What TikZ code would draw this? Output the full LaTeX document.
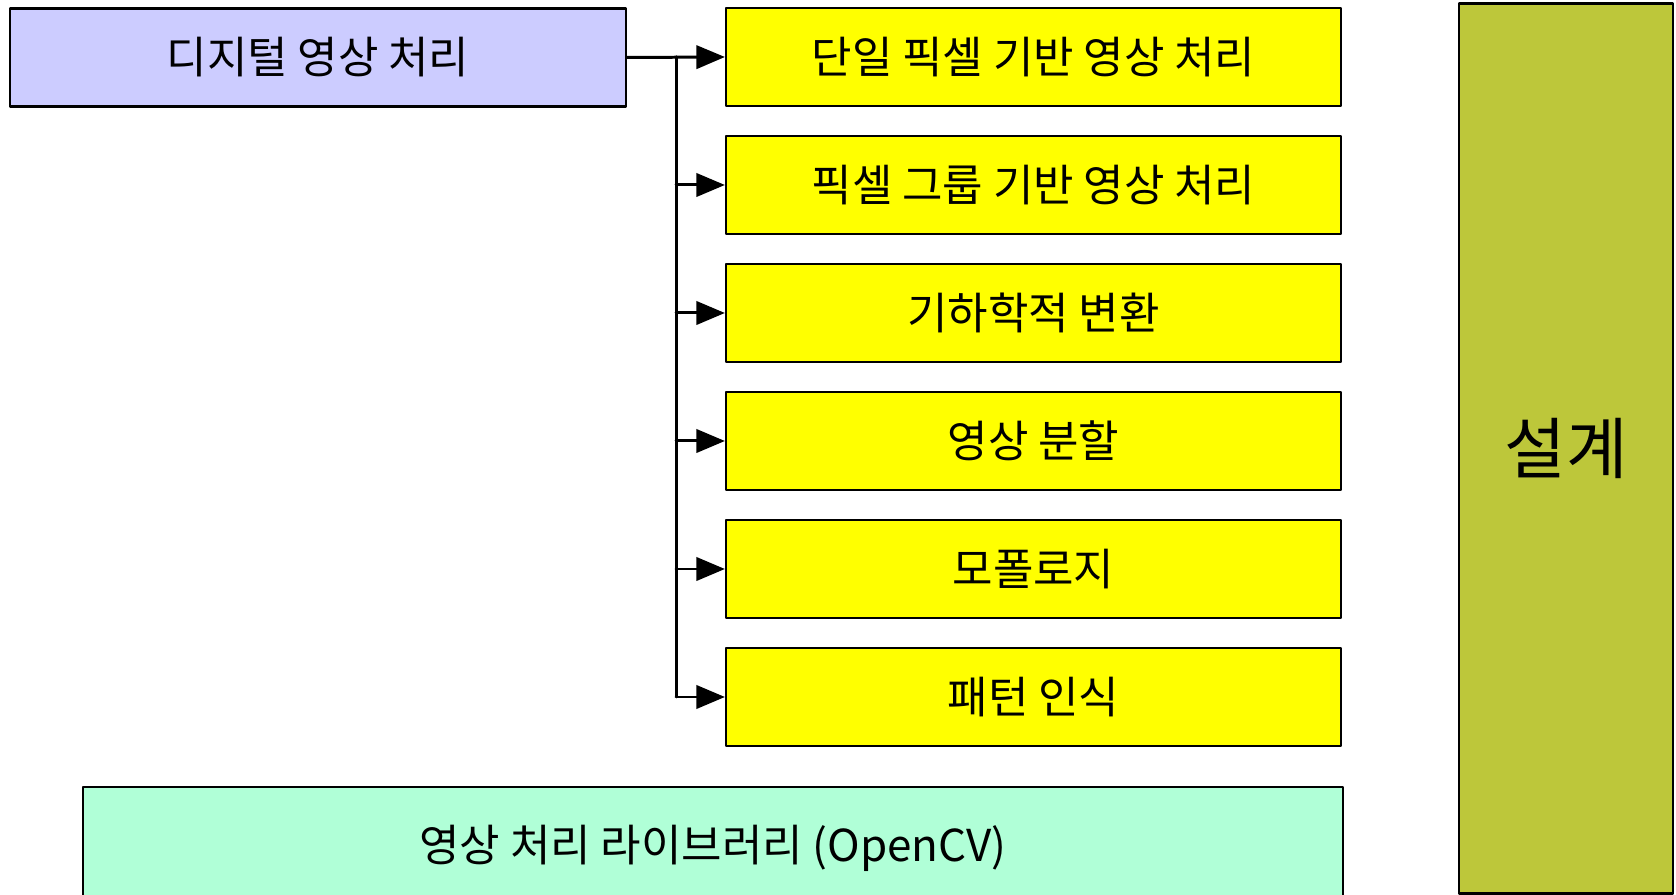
\documentclass[tikz,border=0pt]{standalone}
\usepackage{fontspec}
\setmainfont{Noto Sans CJK KR}
\usetikzlibrary{arrows}
\definecolor{dipblue}{RGB}{204,204,255}
\definecolor{stepyellow}{RGB}{255,255,0}
\definecolor{olivebox}{RGB}{189,199,58}
\definecolor{mintbox}{RGB}{176,255,215}
\begin{document}
\begin{tikzpicture}[line cap=round,line join=round,>=triangle 45,x=0.01cm,y=-0.01cm]
            \useasboundingbox (0,0) rectangle (1676,895);
            \tikzset{box/.style={draw=black,line width=0.6pt,inner sep=0pt,font=\fontsize{12.5}{15}\selectfont,minimum height=0.98cm}}
            \node [box,fill=dipblue,minimum width=6.16cm] (dip) at (318,57.5) {디지털 영상 처리};
            \foreach \n/\t [count=\i from 0] in {a/단일 픽셀 기반 영상 처리,b/픽셀 그룹 기반 영상 처리,c/기하학적 변환,d/영상 분할,e/모폴로지,f/패턴 인식}
                \node [box,fill=stepyellow,minimum width=6.15cm] (\n) at (1033.5,57+128*\i) {\t};
            \node [box,fill=olivebox,line width=0.8pt,minimum width=2.14cm,minimum height=8.89cm,font=\fontsize{19}{22}\selectfont] (design) at (1566,448.5) {설계};
            \node [box,fill=mintbox,minimum width=12.6cm,minimum height=1.23cm] (lib) at (713,848.5) {영상 처리 라이브러리 (OpenCV)};
            \coordinate (trunk) at (676,57);
            \draw [->,line width=0.85pt] (dip.east) -- (a.west);
            \draw [line width=0.85pt] (trunk) -- (trunk |- f.west);
            \foreach \n in {b,c,d,e,f}
                \draw [->,line width=0.85pt] (trunk |- \n.west) -- (\n.west);
            \end{tikzpicture}
\end{document}
